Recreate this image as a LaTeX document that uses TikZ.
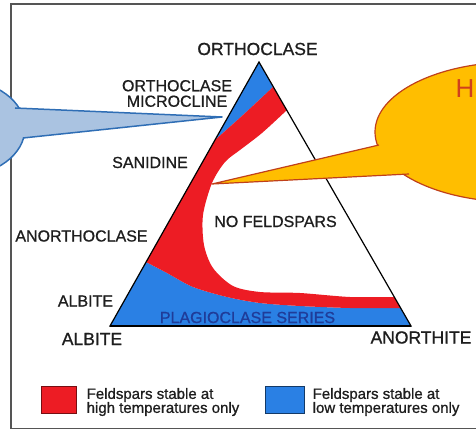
\documentclass[tikz,border=0pt]{standalone}
\usepackage{fontspec}
\setmainfont{Liberation Sans}
\newfontfamily\heavyfont{Liberation Sans}[FakeBold=0.9]
\usetikzlibrary{positioning}
\definecolor{feldRed}{HTML}{ED1C24}
\definecolor{feldBlue}{HTML}{2A80E4}
\definecolor{seriesBlue}{HTML}{1F3C99}
\definecolor{labelGray}{HTML}{1E1E1E}
\definecolor{frameGray}{HTML}{555555}
\definecolor{coolFill}{HTML}{AAC3E1}
\definecolor{coolLine}{HTML}{2F6EB5}
\definecolor{hotFill}{HTML}{FFBE00}
\definecolor{hotLine}{HTML}{C0401A}
\definecolor{hotText}{HTML}{D0401C}

\begin{document}
\begin{tikzpicture}[
  x=1pt, y=-1pt,
  every node/.style={inner sep=0pt, text=labelGray},
  vertex/.style={font=\heavyfont\fontsize{17.5}{17.5}\selectfont},
  mineral/.style={font=\heavyfont\fontsize{16}{15.5}\selectfont, align=center},
  legendtext/.style={font=\heavyfont\fontsize{15}{14}\selectfont, align=left, anchor=west},
  swatch/.style={minimum height=27pt, line width=1pt},
  edge/.style={line width=1.2pt, black},
]
\useasboundingbox (0,0) rectangle (476,430);
\clip (0,0) rectangle (476,430);

% Frame
\draw[frameGray, line width=1.2pt] (11,4) rectangle (500,428.5);

% === TRIANGLE CORNERS ===
\coordinate (orth) at (259,62);
\coordinate (alb) at (110,326);
\coordinate (anor) at (411,326);

% === STABILITY FIELDS ===
\fill[feldBlue] (orth) -- plot[smooth] coordinates {(273,87) (243,115) (215,140)} -- cycle;
\fill[feldBlue] (146,262) -- plot[smooth] coordinates {(146,262) (167,273) (193,287) (227,297) (260,303) (300,306) (350,308) (400.6,308)} -- (anor) -- (alb) -- cycle;
\fill[feldRed] (215,140) -- (146,262)
  -- plot[smooth] coordinates {(146,262) (167,273) (193,287) (227,297) (260,303) (300,306) (350,308) (400.6,308)}
  -- (394,297)
  -- plot[smooth] coordinates {(394,297) (350,297) (300,293) (260,292) (233,286) (213,268) (204,245) (203,215) (212,183) (225,162) (240,150) (262,133) (287,110)}
  -- (273,87)
  -- plot[smooth] coordinates {(273,87) (243,115) (215,140)} -- cycle;

% Triangle outline
\draw[edge] (orth) -- (alb) -- (anor) -- cycle;
\draw[black, line width=2pt] (alb) -- (anor);

% === LABELS ===
\node[vertex] (orthLabel) at (257.5,49) {ORTHOCLASE};
\node[vertex] (albLabel) at (92,339) {ALBITE};
\node[vertex] (anorLabel) at (421,337.5) {ANORTHITE};
\node[mineral] (microLabel) at (177,93.5) {ORTHOCLASE\\MICROCLINE};
\node[mineral] (sanLabel) at (150,162.5) {SANIDINE};
\node[mineral] (anorthoLabel) at (81.5,236) {ANORTHOCLASE};
\node[mineral] (albiteLabel) at (85.5,301) {ALBITE};
\node[mineral] (noLabel) at (275.5,221.5) {NO FELDSPARS};
\node[mineral, text=seriesBlue] (plagLabel) at (247.5,317.5) {PLAGIOCLASE SERIES};

% === CALLOUTS ===
\coordinate (coolTip) at (222,117);
\coordinate (hotTip) at (212,184);
\filldraw[fill=coolFill, draw=coolLine, line width=1.5pt] (-40,128) ellipse[x radius=65pt, y radius=48pt];
\fill[coolFill] (15,108) -- (coolTip) -- (23,138) -- cycle;
\draw[coolLine, line width=1.5pt, line join=round] (15,108) -- (coolTip) -- (23,138);

\filldraw[fill=hotFill, draw=hotLine, line width=1.2pt] (515,132) ellipse[x radius=140pt, y radius=70pt];
\fill[hotFill] (379,145) -- (hotTip) -- (409,174) -- cycle;
\draw[hotLine, line width=1.2pt, line join=round] (379,145) -- (hotTip) -- (409,174);
\node[font=\fontsize{26}{26}\selectfont, text=hotText] (hotH) at (465,89) {H};

% === LEGEND ===
\node[swatch, minimum width=35pt, fill=feldRed, draw=feldRed!50!black] (redKey) at (58.5,399.5) {};
\node[legendtext, right=10pt of redKey, yshift=-2.5pt] (redText) {Feldspars stable at\\high temperatures only};
\node[swatch, minimum width=39pt, fill=feldBlue, draw=feldBlue!45!black] (blueKey) at (284.5,400) {};
\node[legendtext, right=8pt of blueKey, yshift=-2pt] (blueText) {Feldspars stable at\\low temperatures only};

\end{tikzpicture}
\end{document}
